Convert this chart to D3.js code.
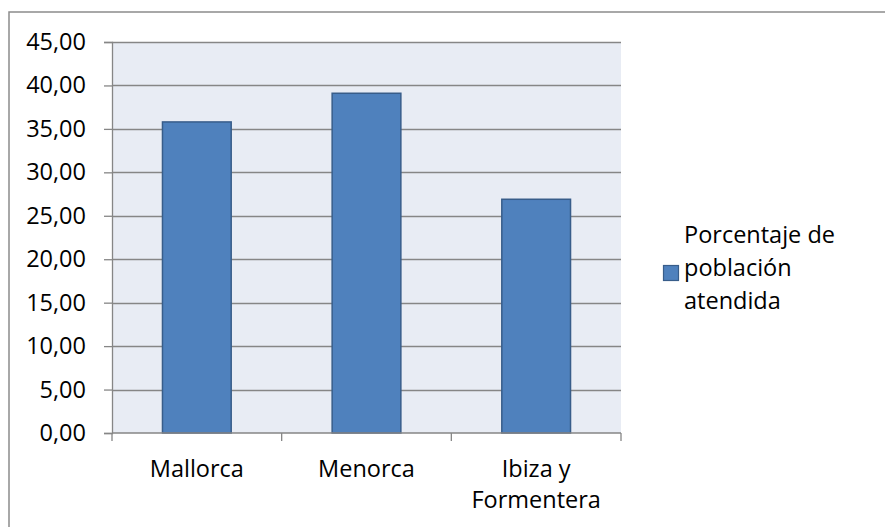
<!DOCTYPE html>
<html>
<head>
<meta charset="utf-8">
<script src="https://cdn.jsdelivr.net/npm/d3@7"></script>
<style>
  html, body { margin: 0; padding: 0; background: #fff; }
  svg { display: block; }
  text { font-family: "Open Sans", "Noto Sans", sans-serif; fill: #000; }
</style>
</head>
<body>
<svg id="chart" width="885" height="527"></svg>
<script>
// Islands and the share of population served (%)
const categories = [["Mallorca"], ["Menorca"], ["Ibiza y", "Formentera"]];
const values = [35.8, 39.1, 26.9];
const yTicks = [0, 5, 10, 15, 20, 25, 30, 35, 40, 45];
const seriesName = ["Porcentaje de", "población", "atendida"];

const svg = d3.select("#chart");
const W = 885, H = 527;
const plot = { left: 112, top: 42, right: 621, bottom: 433 };
const fontSize = 23.5;

// outer chart frame (runs past the right and bottom edges)
svg.append("rect")
  .attr("x", 9).attr("y", 12)
  .attr("width", W + 20).attr("height", H + 20)
  .attr("fill", "#fff").attr("stroke", "#8c8c8c").attr("stroke-width", 1.5);

const keys = categories.map(c => c.join(" "));
const x = d3.scaleBand().domain(keys).range([plot.left, plot.right]).padding(0);
const y = d3.scaleLinear().domain([0, 45]).range([plot.bottom, plot.top]);

// plot background
svg.append("rect")
  .attr("x", plot.left).attr("y", plot.top)
  .attr("width", plot.right - plot.left).attr("height", plot.bottom - plot.top)
  .attr("fill", "#e8ecf4");

// horizontal gridlines
svg.append("g").selectAll("line").data(yTicks.filter(t => t > 0)).join("line")
  .attr("x1", plot.left).attr("x2", plot.right)
  .attr("y1", d => Math.round(y(d)) + 0.5).attr("y2", d => Math.round(y(d)) + 0.5)
  .attr("stroke", "#868686").attr("stroke-width", 1.3);

// bars
const barW = x.bandwidth() * 0.405;
svg.append("g").selectAll("rect").data(values).join("rect")
  .attr("x", (d, i) => x(keys[i]) + (x.bandwidth() - barW) / 2)
  .attr("y", d => y(d))
  .attr("width", barW)
  .attr("height", d => y(0) - y(d))
  .attr("fill", "#4f81bd")
  .attr("stroke", "#385d8a").attr("stroke-width", 1.5);

// y axis
const yAxis = d3.axisLeft(y).tickValues(yTicks).tickSize(8).tickPadding(18)
  .tickFormat(d => d3.format(".2f")(d).replace(".", ","));
const gy = svg.append("g").attr("transform", `translate(${plot.left},0)`).call(yAxis);
gy.select(".domain").attr("stroke", "#868686").attr("stroke-width", 1.3);
gy.selectAll(".tick line").attr("stroke", "#868686").attr("stroke-width", 1.3);
gy.selectAll(".tick text").attr("font-size", fontSize).attr("font-family", null).attr("fill", "#000");

// x axis: ticks at category boundaries
const gx = svg.append("g").attr("transform", `translate(0,${plot.bottom})`);
gx.append("line").attr("x1", plot.left).attr("x2", plot.right)
  .attr("stroke", "#868686").attr("stroke-width", 1.3);
const bounds = keys.map(k => x(k)).concat([x(keys[keys.length - 1]) + x.bandwidth()]);
gx.selectAll("line.tk").data(bounds).join("line").attr("class", "tk")
  .attr("x1", d => d).attr("x2", d => d).attr("y1", 0).attr("y2", 8)
  .attr("stroke", "#868686").attr("stroke-width", 1.3);
gx.selectAll("text").data(categories).join("text")
  .attr("x", (d, i) => x(keys[i]) + x.bandwidth() / 2)
  .attr("text-anchor", "middle")
  .attr("font-size", fontSize)
  .each(function (d) {
    d3.select(this).selectAll("tspan").data(d).join("tspan")
      .attr("x", d3.select(this).attr("x"))
      .attr("y", (t, j) => 44 + j * 31)
      .text(t => t);
  });

// legend
const lg = svg.append("g");
lg.append("rect").attr("x", 663.5).attr("y", 265.5).attr("width", 15).attr("height", 15)
  .attr("fill", "#4f81bd").attr("stroke", "#385d8a").attr("stroke-width", 1.2);
lg.append("text").attr("font-size", fontSize)
  .selectAll("tspan").data(seriesName).join("tspan")
  .attr("x", 684).attr("y", (d, i) => 243 + i * 33)
  .text(d => d);
</script>
</body>
</html>
